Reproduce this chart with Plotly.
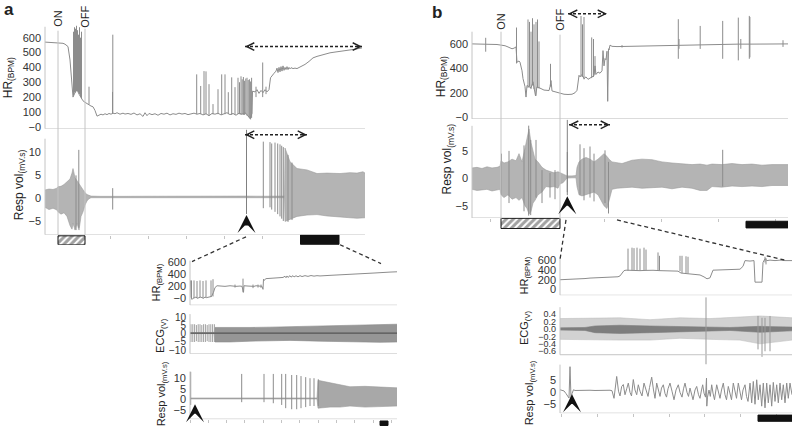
import plotly.graph_objects as go

W, H = 800, 437
TRACE = "#8c8c8c"
BAND = "#b4b4b4"
EDGE = "#9c9c9c"
AXIS = "#c4c4c4"
TXT = "#333333"
FONT = "Liberation Sans"

# ======================= DATA =======================
# ---- Panel a (time in s) ----
a_on_off = [13, 40]
a_arrow_t = 201.5
a_scalebar = [255.5, 294]
# HR baseline (t, bpm)
hr_a = [(0,570),(5,568),(10,566),(13,560),(18,562),(20,556),(23,540),(25,450),(27,300),(28,200),(30,230),(32,250),
        (34,220),(36,200),(38,175),(40,165),(42,155),(44,150),(46,140),(48,135),(50,110),(52,72),(54,76),(56,85),
        (58,80),(60,88),(62,82),(64,90),(66,85),(68,92),(70,88),(72,95),(75,85),(78,92),(80,86),(83,90),(86,84),
        (89,93),(92,80),(95,88),(98,70),(100,95),(102,75),(104,90),(107,82),(110,88),(113,78),(116,90),(119,85),
        (122,92),(125,80),(128,88),(131,84),(134,92),(137,86),(140,90),(143,82),(146,88),(149,92),(152,85),(155,90),
        (158,80),(161,88),(164,75),(167,90),(170,85),(173,92),(176,80),(179,88),(182,95),(185,82),(188,90),(191,78),
        (194,92),(197,85),(200,95),(203,75),(205,55),(207,90),(207.5,240),(210,235),(212,250),(214,225),(216,245),
        (218,230),(220,250),(222,235),(224,250),(225.5,330),(227,340),(229,360),(231,375),(232,395),(233,365),
        (234,400),(235,370),(236,405),(237,375),(238,410),(239,380),(240,400),(241,385),(242,405),(243,385),
        (244,400),(245,390),(246,398),(248,392),(250,395),(252,392),(256,405),(260,420),(264,440),(268,464),
        (272,474),(276,482),(280,490),(285,498),(290,503),(295,507),(300,512),(305,517),(310,522),(317,531)]
# HR spikes (t, low, high)
hr_a_spikes = [(28.5,210,640),(29.5,230,670),(30.5,230,660),(31.5,240,680),(32.5,240,650),(33.5,230,620),
               (34.5,220,670),(35.5,200,600),(36.5,190,640),(44,150,270),(67.5,90,235),(67.8,90,620),
               (151.7,85,353),(155.7,85,275),(159,80,375),(161,85,373),(164,75,287),(168,85,153),(173,85,253),
               (176.7,80,353),(180,85,353),(183.3,85,233),(186.7,80,333),(190,80,267),(193,85,330),(194.5,85,300),
               (196,80,340),(197.2,85,320),(198.4,80,335),(199.6,80,310),(200.8,85,325),(202,75,330),(203.2,70,315),
               (204.4,60,320),(205.6,50,305),(206.6,60,330),(211,200,270),(217.7,200,433),(221,220,270)]
# Resp volume band (t, high, low)
resp_a_band = [(0,1.8,-2.0),(4,2.0,-2.5),(8,1.9,-2.2),(12,2.2,-2.6),(13,2.5,-3.0),(16,2.6,-3.5),(19,3.0,-3.2),
               (22,3.5,-4.0),(25,4.2,-6.0),(27,5.5,-6.8),(28,6.5,-5.5),(30,4.5,-7.0),(32,3.8,-5.5),(34,3.0,-7.0),
               (36,2.5,-4.0),(38,1.8,-3.0),(40,1.2,-1.5),(42,0.8,-0.6),(44,0.6,-0.1),(46,0.45,0.1),(55,0.4,0.1),
               (65,0.45,0.1),(80,0.4,0.12),(100,0.42,0.1),(120,0.45,0.12),(140,0.4,0.1),(160,0.45,0.12),
               (180,0.4,0.1),(200,0.45,0.12),(218,0.42,0.1),(239.5,0.45,0.1),(240,11.0,-5.1),(245,8.0,-4.6),
               (252,6.5,-4.0),(262,6.2,-3.7),(272,5.4,-3.6),(282,5.5,-3.9),(295,5.4,-4.2),(305,5.6,-4.3),
               (312,5.5,-4.4),(318,5.8,-4.3),(320,5.5,-4.3)]
resp_a_spikes = [(31,-7.0,5.0),(33.8,-6.5,10.6),(67.7,-2.5,2.2),(218.3,-2.2,12.4),(225,-2.0,12.3),(226.7,-2.5,12.0),
                 (230,-3.0,12.2),(232.7,-3.5,12.0),(235,-4.0,11.8),(236.7,-4.5,11.5),(238.3,-5.0,11.2),
                 (243,-5.2,9.5),(247,-4.8,7.8)]

# ---- Panel b (time in s) ----
b_on_off = [29, 88]
b_arrow_t = 95.3
b_scalebar = [274, 316]
hr_b = [(0,600),(5,600),(10,598),(13.5,600),(14.5,600),(20,598),(25,595),(29,590),(33,585),(36,575),(38,570),
        (40,560),(42,565),(44,575),(45,450),(47,460),(48,450),(50,380),(51,316),(53,250),(54,165),(55,260),
        (57,250),(59,240),(61,290),(62.5,230),(63.5,175),(65,250),(67,240),(68,235),(70,225),(72,222),(75,220),
        (77,218),(78,250),(79,300),(80,215),(82,210),(85,205),(88,195),(92,188),(96,186),(100,188),(103,200),
        (105,220),(106,280),(107,343),(108,330),(110,350),(112,315),(114,330),(116,310),(118,320),(120,330),
        (122,340),(123,420),(124,350),(126,370),(128,360),(130,380),(131,545),(132,420),(133,480),(134,470),
        (135,540),(135.7,130),(136.5,560),(137,550),(138,590),(140,580),(145,578),(155,580),(165,583),(175,585),
        (185,588),(195,590),(205,592),(215,594),(228,595),(240,597),(266,598),(277,598),(300,600),(316,600)]
hr_b_spikes = [(13.7,536,650),(44.5,440,734),(56,240,800),(57.5,250,780),(59,230,700),(60.5,260,810),
               (62,230,760),(64,175,780),(65.5,240,800),(67,235,620),(78.5,250,437),(109,330,828),
               (110.5,330,760),(112,310,820),(119.7,320,653),(121.5,330,640),(123,350,500),(150,570,590),
               (206.3,478,802),(207,560,640),(228.2,559,747),(250.7,478,788),(266.3,465,815),(268.8,560,640),
               (277.3,478,829),(277.9,490,820),(311,575,630)]
resp_b_band = [(0,1.9,-2.0),(5,2.0,-2.2),(10,1.8,-2.1),(15,2.1,-2.0),(20,1.9,-2.3),(25,2.0,-2.1),(28,2.2,-2.0),
               (29,3.2,-3.0),(32,2.8,-3.5),(36,3.0,-3.0),(40,3.5,-3.8),(44,3.2,-3.5),(47,4.5,-4.0),(50,3.0,-3.5),
               (53,5.5,-5.0),(55,7.5,-5.5),(57,9.0,-6.5),(59,6.5,-6.0),(61,5.0,-4.5),(63,3.5,-4.0),(66,3.0,-3.0),
               (70,2.0,-2.5),(74,1.5,-1.5),(78,1.2,-1.6),(82,1.0,-1.5),(86,1.2,-1.8),(88,1.0,-1.0),(91,0.8,-0.8),
               (93,0.6,-0.4),(95,0.45,0.05),(100,0.45,0.1),(104,0.5,0.1),(105,2.0,-1.5),(107,3.0,-3.0),
               (110,3.5,-3.2),(114,3.8,-3.0),(118,3.5,-2.8),(122,3.0,-2.5),(126,3.5,-3.0),(129,4.0,-4.0),
               (132,4.5,-5.0),(135,4.0,-5.5),(137,3.5,-4.0),(140,3.0,-2.0),(145,2.8,-1.8),(150,2.7,-1.7),
               (160,3.3,-1.6),(170,3.5,-1.8),(180,3.4,-1.7),(190,3.0,-1.6),(200,2.8,-1.9),(210,2.7,-1.6),
               (220,2.5,-1.8),(228,2.6,-2.2),(235,2.4,-2.2),(240,2.6,-1.5),(250,2.5,-1.6),(260,2.7,-1.4),
               (270,2.5,-1.5),(280,2.6,-1.4),(290,2.4,-1.5),(300,2.5,-1.3),(316,2.5,-1.3)]
resp_b_spikes = [(29.5,-3.0,4.5),(37,-4.5,5.0),(52,-6.0,6.0),(56.7,-6.8,9.6),(58.7,-6.7,7.0),(64,-3.5,7.0),
                 (70,-4.5,1.5),(78,-3.5,1.0),(83,-3.8,1.5),(95.3,-2.5,4.8),(108,-3.0,6.2),(112,-4.0,5.5),
                 (118,-3.5,5.8),(122,-4.2,4.5),(133,-4.5,5.1),(136.5,-6.4,3.0),(250.7,-1.5,5.2)]

# ---- Inset a (expanded time, s) ----
ia_arrow_t = 5
ia_scalebar = [190, 198]
ia_hr = [(0.5,300),(1,20),(2,-20),(3,0),(4.5,10),(6,20),(7.5,0),(9,10),(10.5,20),(12,10),(13.5,0),(15,20),
         (16.5,10),(19,20),(21.5,30),(23.5,100),(25,180),(27,210),(30,205),(35,200),(40,210),(44,200),(46,200),
         (50,205),(52,200),(53.5,100),(54,210),(58,205),(62,200),(64,200),(66,210),(69,200),(72,200),(73,150),
         (73.5,320),(74,300),(76,330),(80,335),(85,340),(90,345),(93,350),(95,370),(96,345),(97,375),(98,350),
         (100,380),(101,355),(103,380),(104,358),(106,378),(108,360),(110,380),(112,365),(115,380),(118,368),
         (121,382),(124,372),(127,380),(130,375),(140,385),(155,395),(170,410),(185,425),(200,440),(207,445)]
ia_hr_spikes = [(1.5,0,300),(4,0,300),(7,0,290),(10,10,300),(13,0,290),(16,10,300),(21,20,300),(23,30,320),
                (45,180,230),(53,100,330),(63,170,230),(68,180,230),(71,175,230)]
ia_ecg_band = [(0,0.8,0.2),(24,0.8,0.2),(25,4.0,-5.0),(40,4.2,-5.0),(60,4.0,-4.5),(80,4.2,-4.2),(100,4.5,-4.0),
               (130,5.0,-4.5),(160,5.5,-5.0),(190,6.0,-5.2),(207,6.0,-5.0)]
ia_ecg_spikes = [(1,-5,6),(2.8,-5,6),(4.6,-5,6),(6.4,-4.5,5.5),(8.2,-5,6),(10,-5,6),(11.8,-5,5.5),(13.6,-5,6),
                 (15.4,-5,6),(17.2,-4.5,5.5),(19,-5,6),(20.8,-5,6),(22.6,-5,6),(24.4,-5,6)]
ia_ecg_base = [(0,0.5),(207,0.5)]
ia_resp_band = [(0,0.75,0.3),(60,0.75,0.3),(127,0.75,0.3),(128,9.0,-4.0),(140,8.0,-3.5),(150,7.0,-3.5),
                (160,6.0,-3.0),(175,6.2,-3.5),(190,5.8,-3.2),(207,5.5,-3.0)]
ia_resp_spikes = [(0.7,-2.5,13.0),(51.7,-1.2,12.0),(74,-1.2,12.0),(83.3,-1.7,12.0),(91.7,-2.5,12.0),
                  (95.7,-4.0,12.0),(101.7,-4.5,11.5),(106.7,-4.5,11.5),(111,-4.0,11.0),(115.7,-3.5,10.5),
                  (120,-3.0,10.0),(124,-3.0,10.0),(128.3,-3.0,9.5)]

# ---- Inset b (expanded time, s) ----
ib_arrow_t = 12
ib_scalebar = [198, 233]
ib_hr = [(0,200),(10,205),(20,212),(25,225),(30,235),(40,245),(50,252),(58,262),(60,280),(62,330),(64,390),
         (66,400),(70,395),(75,400),(80,390),(85,395),(90,400),(93,398),(100,390),(110,385),(118,380),(121,340),
         (125,330),(130,320),(135,310),(140,300),(144,260),(147,220),(150,240),(153,400),(160,405),(170,410),
         (180,420),(183,480),(185,600),(190,590),(194,600),(195,150),(200,145),(202,150),(203,560),(205,640),
         (207,600),(210,610),(215,600),(220,610),(225,600),(232,600)]
ib_hr_spikes = [(68,390,850),(72,395,870),(74,400,860),(77,395,870),(80,390,850),(84,395,870),(86,400,830),
                (98,390,770),(99.5,390,700),(120,380,700),(122,340,700),(126,330,690),(128,330,680),
                (205,560,680),(206,520,650)]
ib_ecg_outer = [(0,0.28,-0.28),(30,0.3,-0.3),(60,0.3,-0.3),(90,0.25,-0.3),(120,0.3,-0.25),(150,0.28,-0.28),
                (180,0.32,-0.3),(200,0.35,-0.4),(232,0.3,-0.3)]
ib_ecg_core = [(0,0.03,-0.03),(25,0.04,-0.04),(35,0.08,-0.1),(60,0.1,-0.12),(90,0.08,-0.1),(120,0.07,-0.08),
               (150,0.05,-0.06),(170,0.04,-0.04),(200,0.07,-0.09),(232,0.05,-0.05)]
ib_ecg_spikes = [(146,-0.95,0.85),(198,-0.55,0.35),(202,-0.75,0.3),(205,-0.6,0.3),(210,-0.6,0.35)]
ib_resp = [(0,1.1),(2,0.9),(4,0.6),(6,-0.5),(8,-1.8),(9,-2.4),(10,10.8),(11,-2.4),(12,-0.5),(13.5,1.1),(15,0.8),
           (20,0.9),(25,0.8),(30,0.9),(35,0.8),(40,0.9),(45,0.8),(50,0.9),(52,0.7),(54,-2.5),(56.7,6.7),
           (58.5,0.5),(60,-1.5),(61.7,2.5),(63.3,3.3),(65,-1.0),(66.7,1.5),(68.3,3.9),(70,0.0),(71.5,-1.5),
           (73.3,5.4),(75,1.0),(76.7,-1.0),(78.3,3.2),(80,0.5),(82,-1.5),(84,3.9),(86,1.2),(88,-1.7),(89.5,2.0),
           (91.7,6.4),(93.5,1.0),(95,-2.5),(96.7,3.9),(98.5,1.0),(100,-1.7),(101.5,1.8),(103.3,3.2),(105,-0.5),
           (106.5,-2.0),(108,1.5),(110,3.9),(112,0.5),(114,-3.1),(116,1.0),(118.3,3.2),(120,0.0),(122,-2.0),
           (123.5,1.5),(125,3.9),(127,0.0),(128.5,-1.7),(130,1.8),(131.5,-0.5),(133,-3.1),(135,1.0),(136.7,2.5),
           (138.5,-1.0),(140,-2.5),(141.5,1.0),(142.7,3.2),(144,-0.3),(145.5,-2.0),(146.5,6.0),(146.8,-5.8),
           (147.5,-2.0),(149,1.0),(150.3,-1.7),(151.7,3.2),(153,-0.3),(154.5,-3.1),(156.7,3.2),(158.5,0.0),
           (160,-2.5),(161.5,1.0),(163.3,3.9),(165,-1.0),(166.5,-3.1),(168.3,2.5),(170,-0.3),(171.5,-3.1),
           (173.3,3.9),(175,0.0),(176.5,-2.5),(178.3,3.9),(180,-0.5),(181.5,-3.1),(183,1.0),(185,3.2),(186.5,-1.7),
           (188,-3.8),(190,3.9),(191.7,-4.4),(193.3,4.6),(195,-5.0),(196.7,5.3),(198.3,-3.1),(200,3.2),
           (201.7,-5.8),(203.3,3.9),(205,-6.5),(206.7,3.9),(208.3,-4.4),(210,3.2),(211.7,-5.8),(213.3,4.2),
           (215,-3.8),(216.7,3.2),(218.3,-4.4),(220,3.9),(221.7,-3.1),(223.3,3.2),(225,-4.4),(226.7,3.9),
           (228.3,-2.5),(230,3.9),(232,-1.0)]

# tick values / labels
hr_a_ticks = [0, 100, 200, 300, 400, 500, 600]
hr_a_labels = ["\u22120", "100", "200", "300", "400", "500", "600"]
resp_a_ticks = [-5, 0, 5, 10]
resp_a_labels = ["\u22125", "0", "5", "10"]
hr_b_ticks = [0, 200, 400, 600]
hr_b_labels = ["\u22120", "200", "400", "600"]
resp_b_ticks = [-5, 0, 5]
resp_b_labels = ["\u22125", "0", "5"]
ia_hr_labels = ["\u22120", "200", "400", "600"]
ia_ecg_ticks = [-10, -5, 0, 5, 10]
ia_ecg_labels = ["\u221210", "\u22125", "0", "5", "10"]
ia_resp_ticks = [-5, 0, 5, 10]
ia_resp_labels = ["\u22125", "0", "5", "10"]
ib_hr_labels = ["0", "200", "400", "600"]
ib_ecg_ticks = [-0.6, -0.4, -0.2, 0.0, 0.2, 0.4]
ib_ecg_labels = ["\u22120.6", "\u22120.4", "\u22120.2", "0.0", "0.2", "0.4"]
ib_resp_ticks = [-5, 0, 5]
ib_resp_labels = ["\u22125", "0", "5"]

# ======================= LAYOUT HELPERS =======================
def fx(p):
    return p / W

def fy(p):
    return 1 - p / H

def val(vm, p):
    (v0, p0), (v1, p1) = vm
    return v0 + (p - p0) * (v1 - v0) / (p1 - p0)

traces, shapes, annotations = [], [], []
layout = {}
AX = {}

def names(n):
    return ("x" if n == 1 else f"x{n}", "y" if n == 1 else f"y{n}")

def add_panel(n, key, xpx, dom, vm, xr, line, tv, tt, xticks=None, fsize=11):
    xa, ya = names(n)
    xk = "xaxis" if n == 1 else f"xaxis{n}"
    yk = "yaxis" if n == 1 else f"yaxis{n}"
    xd = dict(domain=[fx(xpx[0]), fx(xpx[1])], range=list(xr), anchor=ya, showgrid=False, zeroline=False,
              showline=False, showticklabels=False, fixedrange=True)
    if xticks:
        xd.update(ticks="outside", ticklen=3, tickcolor=AXIS, tickwidth=1, tick0=xticks[0], dtick=xticks[1])
    else:
        xd.update(ticks="")
    layout[xk] = xd
    layout[yk] = dict(domain=[fy(dom[1]), fy(dom[0])], range=[val(vm, dom[1]), val(vm, dom[0])], anchor=xa,
                      showgrid=False, zeroline=False, showline=False, ticks="", tickvals=tv, ticktext=tt,
                      ticklabelstandoff=3, tickfont=dict(family=FONT, size=fsize, color=TXT), fixedrange=True)
    ybot, ytop = val(vm, line[1]), val(vm, line[0])
    shapes.append(dict(type="line", xref=f"{xa} domain", yref=ya, x0=0, x1=0, y0=ybot, y1=ytop,
                       line=dict(color=AXIS, width=1)))
    shapes.append(dict(type="line", xref=f"{xa} domain", yref=ya, x0=0, x1=1, y0=ybot, y1=ybot,
                       line=dict(color=AXIS, width=1)))
    AX[key] = (xa, ya)

def add_strip(n, key, xpx, dom, xr):
    xa, ya = names(n)
    layout[f"xaxis{n}"] = dict(domain=[fx(xpx[0]), fx(xpx[1])], range=list(xr), anchor=ya, visible=False,
                               fixedrange=True)
    layout[f"yaxis{n}"] = dict(domain=[fy(dom[1]), fy(dom[0])], range=[0, 1], anchor=xa, visible=False,
                               fixedrange=True)
    AX[key] = (xa, ya)

def line_trace(pairs, key, color=TRACE, width=1):
    xa, ya = AX[key]
    traces.append(go.Scatter(x=[p[0] for p in pairs], y=[p[1] for p in pairs], mode="lines",
                             line=dict(color=color, width=width), xaxis=xa, yaxis=ya, hoverinfo="skip"))

def band_trace(rows, key, fill=BAND, edge=EDGE, ew=0.6):
    xa, ya = AX[key]
    t = [r[0] for r in rows]
    traces.append(go.Scatter(x=t, y=[r[2] for r in rows], mode="lines", line=dict(color=edge, width=ew),
                             xaxis=xa, yaxis=ya, hoverinfo="skip"))
    traces.append(go.Scatter(x=t, y=[r[1] for r in rows], mode="lines", line=dict(color=edge, width=ew),
                             fill="tonexty", fillcolor=fill, xaxis=xa, yaxis=ya, hoverinfo="skip"))

def spike_trace(rows, key, color=TRACE, width=1):
    xa, ya = AX[key]
    xs, ys = [], []
    for t, lo, hi in rows:
        xs += [t, t, None]
        ys += [lo, hi, None]
    traces.append(go.Scatter(x=xs, y=ys, mode="lines", line=dict(color=color, width=width),
                             xaxis=xa, yaxis=ya, hoverinfo="skip", connectgaps=False))

def bar_trace(key, bars):
    # bars: (t0, t1, base, top, hatched)
    xa, ya = AX[key]
    traces.append(go.Bar(x=[(b[0] + b[1]) / 2 for b in bars], width=[b[1] - b[0] for b in bars],
                         base=[b[2] for b in bars], y=[b[3] - b[2] for b in bars],
                         marker=dict(color=["white" if b[4] else "#111111" for b in bars],
                                     line=dict(color="#111111", width=1),
                                     pattern=dict(shape=["/" if b[4] else "" for b in bars], fgcolor="#111111",
                                                  size=5, solidity=0.6, fillmode="overlay")),
                         xaxis=xa, yaxis=ya, hoverinfo="skip"))

# ======================= PANELS =======================
add_panel(1, "a_hr", (45, 365), (20, 130), ((0, 128), (600, 38)), (0, 320), (27, 130), hr_a_ticks, hr_a_labels)
add_panel(2, "a_resp", (45, 365), (136, 237), ((0, 200), (10, 154)), (0, 320), (140, 237),
          resp_a_ticks, resp_a_labels, xticks=(65, 38))
add_panel(3, "b_hr", (472, 788), (10, 120), ((0, 118.3), (600, 44.3)), (0, 316), (32, 120), hr_b_ticks, hr_b_labels)
add_panel(4, "b_resp", (472, 788), (124, 220), ((0, 180), (5, 152.3)), (0, 316), (127, 220),
          resp_b_ticks, resp_b_labels, xticks=(18, 57))
add_panel(5, "ia_hr", (190, 397), (258, 308), ((0, 301), (600, 265)), (0, 207), (263, 308), hr_b_ticks, ia_hr_labels)
add_panel(6, "ia_ecg", (190, 397), (314, 357), ((0, 337), (10, 320.7)), (0, 207), (317, 357),
          ia_ecg_ticks, ia_ecg_labels, fsize=10)
add_panel(7, "ia_resp", (190, 397), (372, 423), ((0, 403.3), (10, 381.7)), (0, 207), (375, 423),
          ia_resp_ticks, ia_resp_labels, xticks=(0, 18.3))
add_panel(8, "ib_hr", (560, 792), (245, 298), ((0, 292), (600, 263)), (0, 232), (260, 298), hr_b_ticks, ib_hr_labels)
add_panel(9, "ib_ecg", (560, 792), (298, 370), ((0, 332), (0.4, 317)), (0, 232), (310, 358),
          ib_ecg_ticks, ib_ecg_labels, fsize=9)
add_panel(10, "ib_resp", (560, 792), (366, 417), ((0, 396), (5, 384)), (0, 232), (368, 417),
          ib_resp_ticks, ib_resp_labels, xticks=(1.7, 35.8))
add_strip(11, "a_strip", (45, 365), (237, 247), (0, 320))
add_strip(12, "b_strip", (472, 788), (220, 231), (0, 316))
add_strip(13, "ia_strip", (190, 397), (424, 430), (0, 207))
add_strip(14, "ib_strip", (560, 792), (418, 426), (0, 232))

# traces
line_trace(hr_a, "a_hr"); spike_trace(hr_a_spikes, "a_hr")
band_trace(resp_a_band, "a_resp"); spike_trace(resp_a_spikes, "a_resp")
line_trace(hr_b, "b_hr"); spike_trace(hr_b_spikes, "b_hr")
band_trace(resp_b_band, "b_resp"); spike_trace(resp_b_spikes, "b_resp")
line_trace(ia_hr, "ia_hr"); spike_trace(ia_hr_spikes, "ia_hr")
band_trace(ia_ecg_band, "ia_ecg", fill="#969696", edge="#8a8a8a"); spike_trace(ia_ecg_spikes, "ia_ecg", color="#a0a0a0")
line_trace(ia_ecg_base, "ia_ecg", color="#555555", width=1.2)
band_trace(ia_resp_band, "ia_resp", fill="#a8a8a8"); spike_trace(ia_resp_spikes, "ia_resp")
line_trace(ib_hr, "ib_hr"); spike_trace(ib_hr_spikes, "ib_hr")
band_trace(ib_ecg_outer, "ib_ecg", fill="#d2d2d2", edge="#b8b8b8", ew=0.5)
band_trace(ib_ecg_core, "ib_ecg", fill="#7e7e7e", edge="#7e7e7e")
spike_trace(ib_ecg_spikes, "ib_ecg", color="#999999")
line_trace(ib_resp, "ib_resp")

bar_trace("a_strip", [(a_on_off[0], a_on_off[1], 0.0, 0.9, True), (a_scalebar[0], a_scalebar[1], 0.03, 1.0, False)])
bar_trace("b_strip", [(b_on_off[0], b_on_off[1], 0.03, 0.97, True), (b_scalebar[0], b_scalebar[1], 0.09, 0.7, False)])
bar_trace("ia_strip", [(ia_scalebar[0], ia_scalebar[1], 0.1, 0.85, False)])
bar_trace("ib_strip", [(ib_scalebar[0], ib_scalebar[1], 0.1, 0.9, False)])

# ======================= DECORATIONS =======================
def vline(xref, t, ytop, ybot, color=AXIS, width=1):
    shapes.append(dict(type="line", xref=xref, yref="paper", x0=t, x1=t, y0=fy(ytop), y1=fy(ybot),
                       line=dict(color=color, width=width)))

vline("x", a_on_off[0], 31, 237); vline("x", a_on_off[1], 29, 237)
vline("x3", b_on_off[0], 32, 221); vline("x3", b_on_off[1], 35, 221)
vline("x2", a_arrow_t, 131, 216, color="#808080")
vline("x4", b_arrow_t, 121, 197, color="#808080")

def dashed_arrow(xref, t0, t1, ypx):
    shapes.append(dict(type="line", xref=xref, yref="paper", x0=t0, x1=t1, y0=fy(ypx), y1=fy(ypx),
                       line=dict(color="#222222", width=1.5, dash="3px,2px")))
    for t, ax in ((t0, 5), (t1, -5)):
        annotations.append(dict(x=t, y=fy(ypx), xref=xref, yref="paper", ax=ax, ay=0, text="", showarrow=True,
                                arrowhead=5, arrowsize=1.0, arrowwidth=1.5, arrowcolor="#222222"))

dashed_arrow("x", 200, 317, 47)
dashed_arrow("x2", 200, 262, 136)
dashed_arrow("x3", 96, 135, 14)
dashed_arrow("x4", 97, 138, 126)

def up_arrow(xref, t, tip_px, length=12):
    annotations.append(dict(x=t, y=fy(tip_px), xref=xref, yref="paper", ax=0, ay=length, text="", showarrow=True,
                            arrowhead=3, arrowsize=1.0, arrowwidth=3, arrowcolor="#111111"))

up_arrow("x2", a_arrow_t, 217)
up_arrow("x4", b_arrow_t, 198, 10)
up_arrow("x7", ia_arrow_t, 408, 10)
up_arrow("x10", ib_arrow_t, 398, 10)

def dash_link(p0, p1):
    shapes.append(dict(type="line", xref="paper", yref="paper", x0=fx(p0[0]), y0=fy(p0[1]), x1=fx(p1[0]),
                       y1=fy(p1[1]), line=dict(color="#333333", width=1.3, dash="4px,3px")))

dash_link((246, 239), (192, 264))
dash_link((340, 247), (381, 266))
dash_link((566, 222), (560, 262))
dash_link((617, 222), (787, 263))

def text(px, py, s, size=11, angle=0, bold=False):
    annotations.append(dict(x=fx(px), y=fy(py), xref="paper", yref="paper", text=f"<b>{s}</b>" if bold else s,
                            showarrow=False, textangle=angle, xanchor="center", yanchor="middle",
                            font=dict(family=FONT, size=size, color="#222222")))

text(9, 10, "a", size=17, bold=True)
text(437, 13, "b", size=17, bold=True)
text(58, 18, "ON", angle=-90)
text(85, 17, "OFF", angle=-90)
text(501, 22, "ON", angle=-90)
text(560, 20, "OFF", angle=-90)

HRT = "HR<sub>(BPM)</sub>"
RVT = "Resp vol<sub>(mV.s)</sub>"
ECT = "ECG<sub>(V)</sub>"
text(9, 79, HRT, size=12, angle=-90)
text(20, 187, RVT, size=12, angle=-90)
text(442, 78, HRT, size=12, angle=-90)
text(448, 161, RVT, size=12, angle=-90)
text(157, 285, HRT, size=11, angle=-90)
text(161, 339, ECT, size=11, angle=-90)
text(162, 398, RVT, size=11, angle=-90)
text(525, 278, HRT, size=11, angle=-90)
text(525, 331, ECT, size=11, angle=-90)
text(530, 397, RVT, size=11, angle=-90)

fig = go.Figure(data=traces)
fig.update_layout(width=W, height=H, margin=dict(l=0, r=0, t=0, b=0), autosize=False,
                  paper_bgcolor="white", plot_bgcolor="rgba(0,0,0,0)", showlegend=False, hovermode=False,
                  barmode="overlay", font=dict(family=FONT, color=TXT), shapes=shapes, annotations=annotations,
                  **layout)
fig.write_html("out.html", config={"displayModeBar": False},
               post_script="document.body.style.margin='0';document.body.style.padding='0';")
